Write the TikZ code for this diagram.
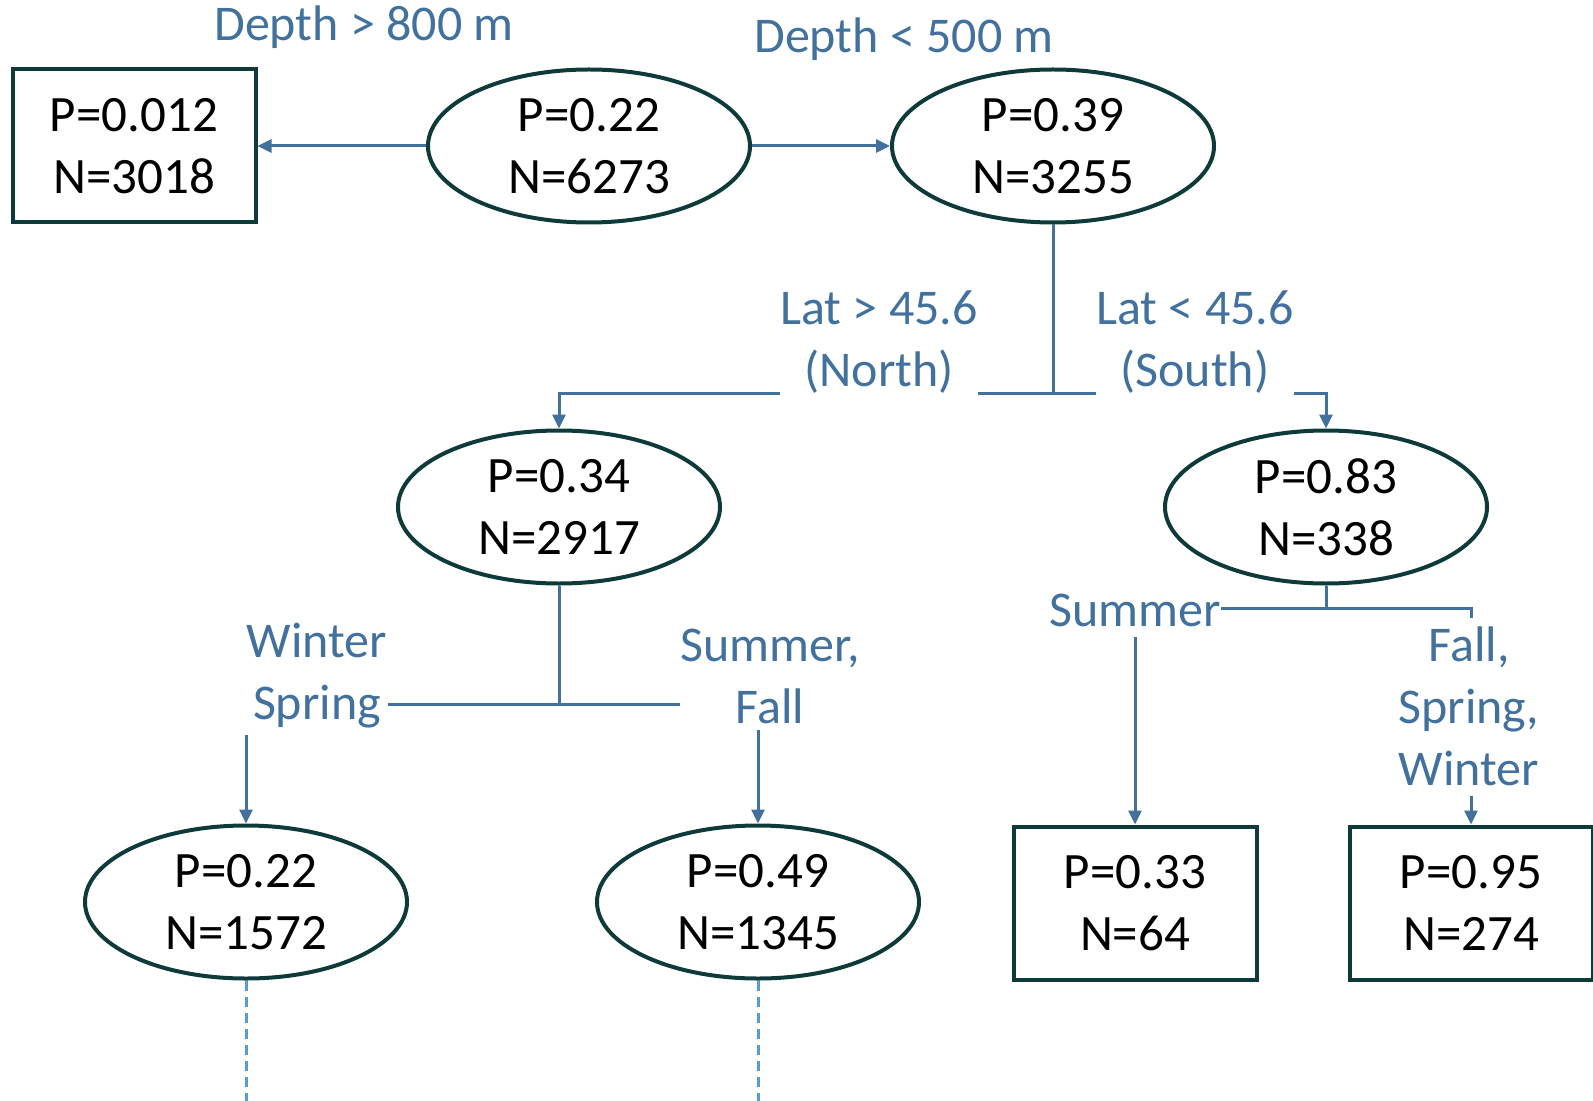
\documentclass[tikz,border=0pt]{standalone}
\usepackage{fontspec}
\setmainfont{Carlito}
\usepackage{xcolor}
\usetikzlibrary{positioning, arrows.meta, shapes.geometric}

\definecolor{nodeline}{HTML}{0E3B39}
\definecolor{splitblue}{HTML}{41719C}
\definecolor{dashblue}{HTML}{5B9BD5}

\begin{document}
\begin{tikzpicture}[
        x=0.5pt, y=-0.5pt,
        splitnode/.style={
            draw=nodeline, line width=2pt, ellipse,
            minimum width=161pt, minimum height=76.5pt, inner sep=0pt,
            align=center, font=\fontsize{25.5}{31}\selectfont
        },
        leafnode/.style={
            draw=nodeline, line width=2pt, rectangle,
            minimum width=121.5pt, minimum height=76.5pt, inner sep=0pt,
            align=center, font=\fontsize{25.5}{31}\selectfont
        },
        rulelabel/.style={
            text=splitblue, inner sep=0pt, align=center,
            font=\fontsize{25}{31}\selectfont
        },
        branch/.style={draw=splitblue, line width=1.5pt},
        brancharrow/.style={branch, -{Triangle[length=7pt, width=6.5pt]}}
    ]

        \useasboundingbox (0,0) rectangle (1593,1101);
        \coordinate (Bottom) at (0,1101);

        \node[splitnode] (Root) at (589,146) {P=0.22\\N=6273};
        \node[leafnode] (Deep) at (134,146) {P=0.012\\N=3018};
        \node[splitnode] (Shallow) at (1053,146) {P=0.39\\N=3255};
        \node[splitnode] (North) at (559,507) {P=0.34\\N=2917};
        \node[splitnode] (South) at (1326,507) {P=0.83\\N=338};
        \node[splitnode] (NorthCold) at (246,902) {P=0.22\\N=1572};
        \node[splitnode] (NorthWarm) at (758,902) {P=0.49\\N=1345};
        \node[leafnode] (SouthSummer) at (1135,903) {P=0.33\\N=64};
        \node[leafnode] (SouthOther) at (1471,903) {P=0.95\\N=274};

        \node[rulelabel] (DeepRule) at (364,27) {Depth > 800 m};
        \node[rulelabel] (ShallowRule) at (904,39) {Depth < 500 m};
        \node[rulelabel] (NorthRule) at (879,342) {Lat > 45.6\\(North)};
        \node[rulelabel] (SouthRule) at (1195,342) {Lat < 45.6\\(South)};
        \node[rulelabel] (ColdRule) at (317,676) {Winter\\Spring};
        \node[rulelabel] (WarmRule) at (770,676) {Summer,\\Fall};
        \node[rulelabel] (SummerRule) at (1135,610) {Summer};
        \node[rulelabel] (OtherRule) at (1469,706) {Fall,\\Spring,\\Winter};

        \coordinate (LatSplit) at (1053,393);
        \coordinate (SeasonSplit) at (559,704);
        \coordinate (SouthSplit) at (1326,608);

        \draw[brancharrow] (Root) -- (Deep);
        \draw[brancharrow] (Root) -- (Shallow);

        \draw[branch] (Shallow.south) -- (LatSplit);
        \draw[branch] (LatSplit) -- (LatSplit -| NorthRule.east);
        \draw[branch] (LatSplit) -- (LatSplit -| SouthRule.west);
        \draw[brancharrow] (LatSplit -| NorthRule.west) -| (North.north);
        \draw[brancharrow] (LatSplit -| SouthRule.east) -| (South.north);

        \draw[branch] (North.south) -- (SeasonSplit);
        \draw[branch] (SeasonSplit) -- (SeasonSplit -| ColdRule.east);
        \draw[branch] (SeasonSplit) -- (SeasonSplit -| WarmRule.west);
        \draw[brancharrow] ([yshift=-3pt]ColdRule.south -| NorthCold.north) -- (NorthCold.north);
        \draw[brancharrow] ([yshift=-3pt]WarmRule.south -| NorthWarm.north) -- (NorthWarm.north);

        \draw[branch] (South.south) -- (SouthSplit);
        \draw[branch] (SouthSplit) -- (SouthSplit -| SummerRule.east);
        \draw[branch] (SouthSplit) -| ([yshift=4pt]OtherRule.north -| SouthOther.north);
        \draw[brancharrow] ([yshift=-5pt]SummerRule.south -| SouthSummer.north) -- (SouthSummer.north);
        \draw[brancharrow] ([yshift=-5pt]OtherRule.south -| SouthOther.north) -- (SouthOther.north);

        \draw[branch, draw=dashblue, dash pattern=on 5pt off 3pt] (NorthCold.south) -- (NorthCold.south |- Bottom);
        \draw[branch, draw=dashblue, dash pattern=on 5pt off 3pt] (NorthWarm.south) -- (NorthWarm.south |- Bottom);

    \end{tikzpicture}
\end{document}
